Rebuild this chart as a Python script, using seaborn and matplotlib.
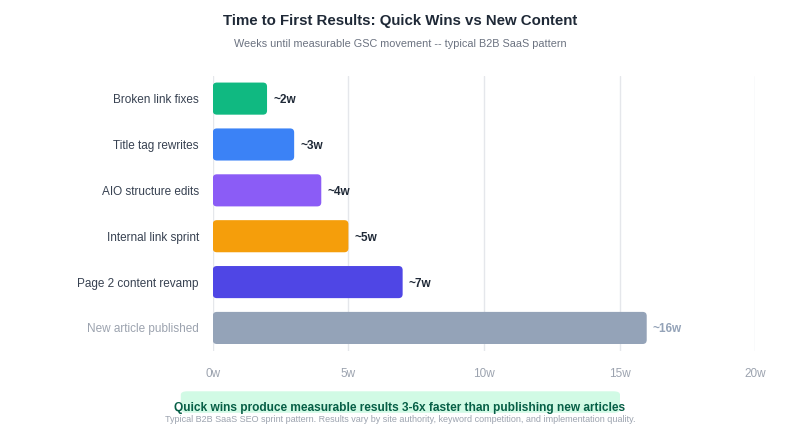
import pandas as pd
import seaborn as sns
import matplotlib.pyplot as plt
from matplotlib.patches import FancyBboxPatch

tasks = [
    "Broken link fixes",
    "Title tag rewrites",
    "AIO structure edits",
    "Internal link sprint",
    "Page 2 content revamp",
    "New article published",
]
weeks = [2, 3, 4, 5, 7, 16]
value_labels = ["~2w", "~3w", "~4w", "~5w", "~7w", "~16w"]
bar_colors = ["#10b981", "#3b82f6", "#8b5cf6", "#f59e0b", "#4f46e5", "#94a3b8"]
x_ticks = [0, 5, 10, 15, 20]

df = pd.DataFrame({"Task": tasks, "Weeks": weeks})

sns.set_theme(style="white")
plt.rcParams["font.family"] = ["Liberation Sans", "DejaVu Sans"]

fig = plt.figure(figsize=(8, 4.3), dpi=100)
ax = fig.add_axes([0.266, 0.184, 0.678, 0.640])

sns.barplot(data=df, y="Task", x="Weeks", hue="Task", palette=bar_colors,
            saturation=1, legend=False, width=0.7, ax=ax, orient="h")

# swap the square bars for rounded ones
for patch in list(ax.patches):
    x, y = patch.get_x(), patch.get_y()
    w, h = patch.get_width(), patch.get_height()
    rounded = FancyBboxPatch((x, y), w, h,
                             boxstyle="round,pad=0,rounding_size=0.15",
                             mutation_aspect=0.59,
                             facecolor=patch.get_facecolor(), edgecolor="none",
                             zorder=3)
    patch.remove()
    ax.add_patch(rounded)

for i, (v, lab) in enumerate(zip(weeks, value_labels)):
    col = "#94a3b8" if i == len(weeks) - 1 else "#1f2937"
    ax.text(v + 0.22, i, lab, va="center_baseline", ha="left", fontsize=8.5,
            fontweight="bold", color=col)

ax.set_xlim(0, 20)
ax.set_ylim(5.5, -0.5)
ax.set_xticks(x_ticks)
ax.set_xticklabels([f"{t}w" for t in x_ticks])
ax.tick_params(axis="x", colors="#9ca3af", labelsize=8.5, length=0, pad=12)
ax.tick_params(axis="y", length=0, pad=10, labelsize=8.5)
for i, lbl in enumerate(ax.get_yticklabels()):
    lbl.set_color("#9ca3af" if i == len(tasks) - 1 else "#374151")
ax.set_xlabel("")
ax.set_ylabel("")
ax.grid(axis="x", color="#e5e7eb", linewidth=1, zorder=0)
ax.set_axisbelow(True)
sns.despine(ax=ax, left=True, bottom=True)

fig.text(0.5, 0.951, "Time to First Results: Quick Wins vs New Content",
         ha="center", va="center", fontsize=10.8, fontweight="bold", color="#1f2937")
fig.text(0.5, 0.898, "Weeks until measurable GSC movement -- typical B2B SaaS pattern",
         ha="center", va="center", fontsize=7.8, color="#6b7280")

banner = FancyBboxPatch((0.226, 0.040), 0.549, 0.050,
                        boxstyle="round,pad=0,rounding_size=0.008",
                        transform=fig.transFigure, facecolor="#d1fae5",
                        edgecolor="none")
fig.patches.append(banner)
fig.text(0.5, 0.052, "Quick wins produce measurable results 3-6x faster than publishing new articles",
         ha="center", va="center", fontsize=8.6, fontweight="bold", color="#065f46")
fig.text(0.5, 0.024, "Typical B2B SaaS SEO sprint pattern. Results vary by site authority, keyword competition, and implementation quality.",
         ha="center", va="center", fontsize=6.5, color="#9ca3af")

fig.savefig("out.png", dpi=100)
